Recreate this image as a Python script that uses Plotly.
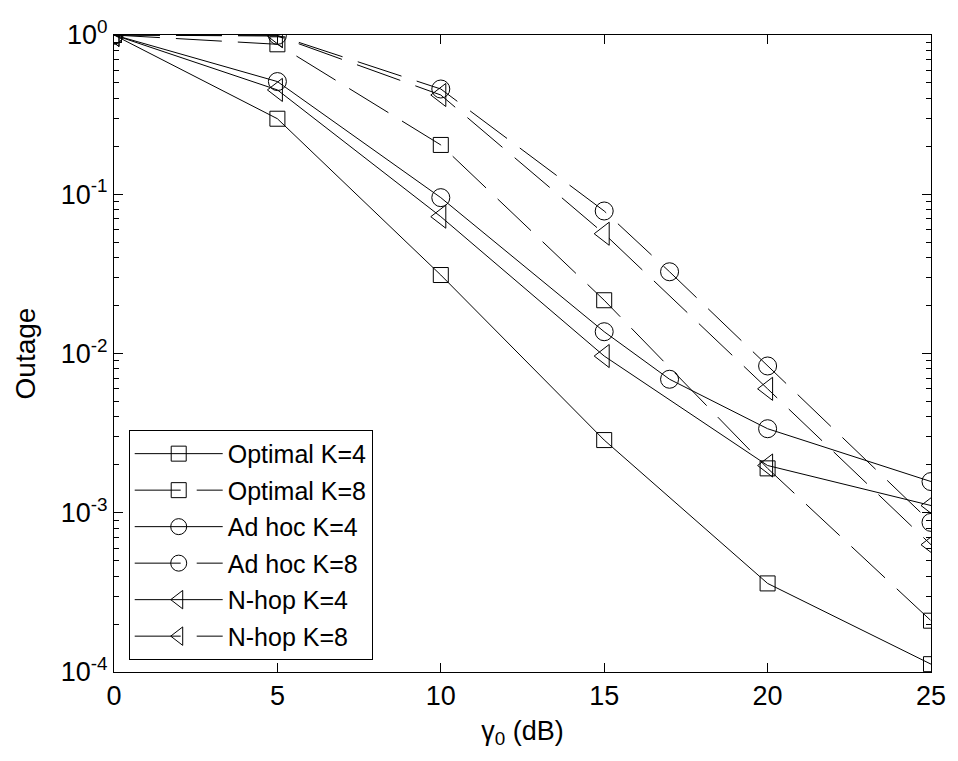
import plotly.graph_objects as go

# ---- data ----
x_opt = [0, 5, 10, 15, 20, 25]
opt_k4 = [1.0, 0.298, 0.0311, 0.00286, 0.00036, 0.000112]
opt_k8 = [1.0, 0.874, 0.204, 0.0216, 0.0019, 0.00021]

x_adhoc = [0, 5, 10, 15, 17, 20, 25]
adhoc_k4 = [1.0, 0.51, 0.0952, 0.0137, 0.00689, 0.00337, 0.00157]
adhoc_k8 = [1.0, 0.995, 0.458, 0.0785, 0.0326, 0.00835, 0.00087]

x_nhop = [0, 5, 10, 15, 20, 25]
nhop_k4 = [1.0, 0.452, 0.0723, 0.00964, 0.00198, 0.00111]
nhop_k8 = [1.0, 0.985, 0.42, 0.0565, 0.0060, 0.00063]

names = ["Optimal K=4", "Optimal K=8", "Ad hoc K=4", "Ad hoc K=8", "N-hop K=4", "N-hop K=8"]

x_ticks = [0, 5, 10, 15, 20, 25]
y_tickvals = [1, 0.1, 0.01, 0.001, 0.0001]
y_ticktext = ["10<sup>0</sup>", "10<sup>-1</sup>", "10<sup>-2</sup>", "10<sup>-3</sup>", "10<sup>-4</sup>"]
decade_exps = [-4, -3, -2, -1]
minor_mults = [2, 3, 4, 5, 6, 7, 8, 9]
y_minor = [m * 10.0 ** e for e in decade_exps for m in minor_mults]

FONT = "Liberation Sans, Arial, Helvetica, sans-serif"
DASH = "46px,16px"

series = [
    (x_opt, opt_k4, names[0], "square-open", 15, "solid"),
    (x_opt, opt_k8, names[1], "square-open", 15, DASH),
    (x_adhoc, adhoc_k4, names[2], "circle-open", 18, "solid"),
    (x_adhoc, adhoc_k8, names[3], "circle-open", 18, DASH),
    (x_nhop, nhop_k4, names[4], "triangle-left-open", 20, "solid"),
    (x_nhop, nhop_k8, names[5], "triangle-left-open", 20, DASH),
]

fig = go.Figure()
for i, (xs, ys, nm, sym, sz, dash) in enumerate(series):
    fig.add_trace(go.Scatter(
        x=xs, y=ys, name=nm, mode="lines+markers",
        line=dict(color="black", width=1, dash=dash),
        marker=dict(symbol=sym, size=sz, color="black", line=dict(color="black", width=1)),
        legendgroup=f"g{i}",
    ))

fig.update_layout(
    width=958, height=761,
    margin=dict(l=114, r=22, t=35, b=89),
    paper_bgcolor="white", plot_bgcolor="white",
    font=dict(family=FONT, size=27, color="black"),
    showlegend=True,
    legend=dict(
        x=0.018, y=0.019, xanchor="left", yanchor="bottom",
        bgcolor="white", bordercolor="black", borderwidth=1,
        font=dict(family=FONT, size=25, color="black"),
        itemwidth=88, tracegroupgap=1,
    ),
)
fig.update_xaxes(
    range=[0, 25], tickvals=x_ticks, ticks="inside", ticklen=9, tickwidth=1, tickcolor="black",
    showline=True, linecolor="black", linewidth=1, mirror="ticks",
    showgrid=False, zeroline=False,
    title=dict(text="γ<sub>0</sub> (dB)", font=dict(size=27), standoff=10),
    tickfont=dict(size=27),
)
fig.update_yaxes(
    type="log", range=[-4, 0], tickmode="array", tickvals=y_tickvals, ticktext=y_ticktext,
    ticks="inside", ticklen=9, tickwidth=1, tickcolor="black",
    minor=dict(ticks="inside", ticklen=5, tickwidth=1, tickcolor="black", showgrid=False,
               tickmode="array", tickvals=y_minor),
    showline=True, linecolor="black", linewidth=1, mirror="ticks",
    showgrid=False, zeroline=False,
    title=dict(text="Outage", font=dict(size=28), standoff=16),
    tickfont=dict(size=27),
)

fig.write_html("out.html")
